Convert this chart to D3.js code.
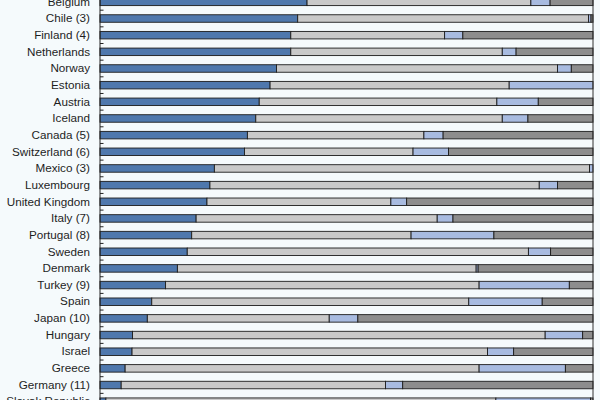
<!DOCTYPE html>
<html>
<head>
<meta charset="utf-8">
<script src="https://cdn.jsdelivr.net/npm/d3@7"></script>
<style>
  html, body { margin: 0; padding: 0; background: #f5fafc; overflow: hidden; }
  #chart { width: 600px; height: 400px; }
</style>
</head>
<body>
<div id="chart"></div>
<script>
// Countries, top to bottom (chart is a crop, first and last rows are cut)
const countries = [
    "Belgium", "Chile (3)", "Finland (4)", "Netherlands", "Norway", "Estonia",
    "Austria", "Iceland", "Canada (5)", "Switzerland (6)", "Mexico (3)",
    "Luxembourg", "United Kingdom", "Italy (7)", "Portugal (8)", "Sweden",
    "Denmark", "Turkey (9)", "Spain", "Japan (10)", "Hungary", "Israel",
    "Greece", "Germany (11)", "Slovak Republic"
];

// Shares in % for each of the four stacked segments
const seriesA = [42.0, 40.1, 38.7, 38.7, 35.8, 34.5, 32.3, 31.6, 29.9, 29.3, 23.2, 22.3, 21.7, 19.5, 18.6, 17.7, 15.7, 13.3, 10.5, 9.6, 6.6, 6.5, 5.1, 4.3, 1.2];
const seriesB = [45.4, 59.0, 31.2, 42.9, 57.0, 48.5, 48.2, 50.0, 35.8, 34.2, 76.1, 66.8, 37.3, 48.9, 44.5, 69.2, 60.6, 63.6, 64.3, 36.9, 83.7, 72.1, 71.8, 53.6, 79.1];
const seriesC = [3.9, 0.5, 3.7, 2.8, 2.8, 17.0, 8.4, 5.2, 3.9, 7.2, 0.7, 3.7, 3.2, 3.2, 16.8, 4.5, 0.4, 18.3, 14.9, 5.8, 7.6, 5.3, 17.5, 3.5, 19.2];
const seriesD = [8.7, 0.4, 26.4, 15.6, 4.4, 0.0, 11.1, 13.2, 30.4, 29.3, 0.0, 7.2, 37.8, 28.4, 20.1, 8.6, 23.3, 4.8, 10.3, 47.7, 2.1, 16.1, 5.6, 38.6, 0.5];

const keys = ["a", "b", "c", "d"];
const colors = {a: "#4f78ad", b: "#c9c9c9", c: "#a8bbe0", d: "#8d8d8d"};

const data = countries.map((name, i) => ({
    name,
    a: seriesA[i],
    b: seriesB[i],
    c: seriesC[i],
    d: seriesD[i]
}));

const plotLeft = 100, plotRight = 593;
const rowStep = 16.66;
const plotTop = 1.85 - rowStep / 2;

const svg = d3.select("#chart")
    .append("svg")
    .attr("width", 600)
    .attr("height", 400);

const x = d3.scaleLinear()
    .domain([0, 100])
    .range([plotLeft, plotRight]);

const y = d3.scaleBand()
    .domain(countries)
    .range([plotTop, plotTop + rowStep * countries.length])
    .paddingInner(0.55)
    .paddingOuter(0.275);

const stacked = d3.stack().keys(keys)(data);

// Bars
svg.append("g")
    .selectAll("g")
    .data(stacked)
    .join("g")
    .attr("fill", d => colors[d.key])
    .selectAll("rect")
    .data(d => d)
    .join("rect")
    .attr("x", d => x(d[0]))
    .attr("y", d => y(d.data.name))
    .attr("width", d => Math.max(0, x(d[1]) - x(d[0])))
    .attr("height", y.bandwidth())
    .attr("stroke", "#1c1c1c")
    .attr("stroke-width", 0.9);

// Category axis (labels only)
const axis = svg.append("g")
    .attr("transform", `translate(${plotLeft},0)`)
    .call(d3.axisLeft(y).tickSize(0).tickPadding(10));

axis.select(".domain").remove();
axis.selectAll("text")
    .style("font-family", "'Liberation Sans', Arial, sans-serif")
    .style("font-size", "11.7px")
    .attr("fill", "#1e1e1e");

// Small ticks between rows
svg.append("g")
    .selectAll("line")
    .data(countries)
    .join("line")
    .attr("x1", plotLeft)
    .attr("x2", plotLeft + 3.5)
    .attr("y1", d => y(d) + y.bandwidth() / 2 + y.step() / 2)
    .attr("y2", d => y(d) + y.bandwidth() / 2 + y.step() / 2)
    .attr("stroke", "#222")
    .attr("stroke-width", 1);

// Left axis line and right frame
svg.append("line")
    .attr("x1", plotLeft).attr("x2", plotLeft)
    .attr("y1", 0).attr("y2", 400)
    .attr("stroke", "#222")
    .attr("stroke-width", 1);

svg.append("line")
    .attr("x1", plotRight).attr("x2", plotRight)
    .attr("y1", 0).attr("y2", 400)
    .attr("stroke", "#333")
    .attr("stroke-width", 1);
</script>
</body>
</html>
